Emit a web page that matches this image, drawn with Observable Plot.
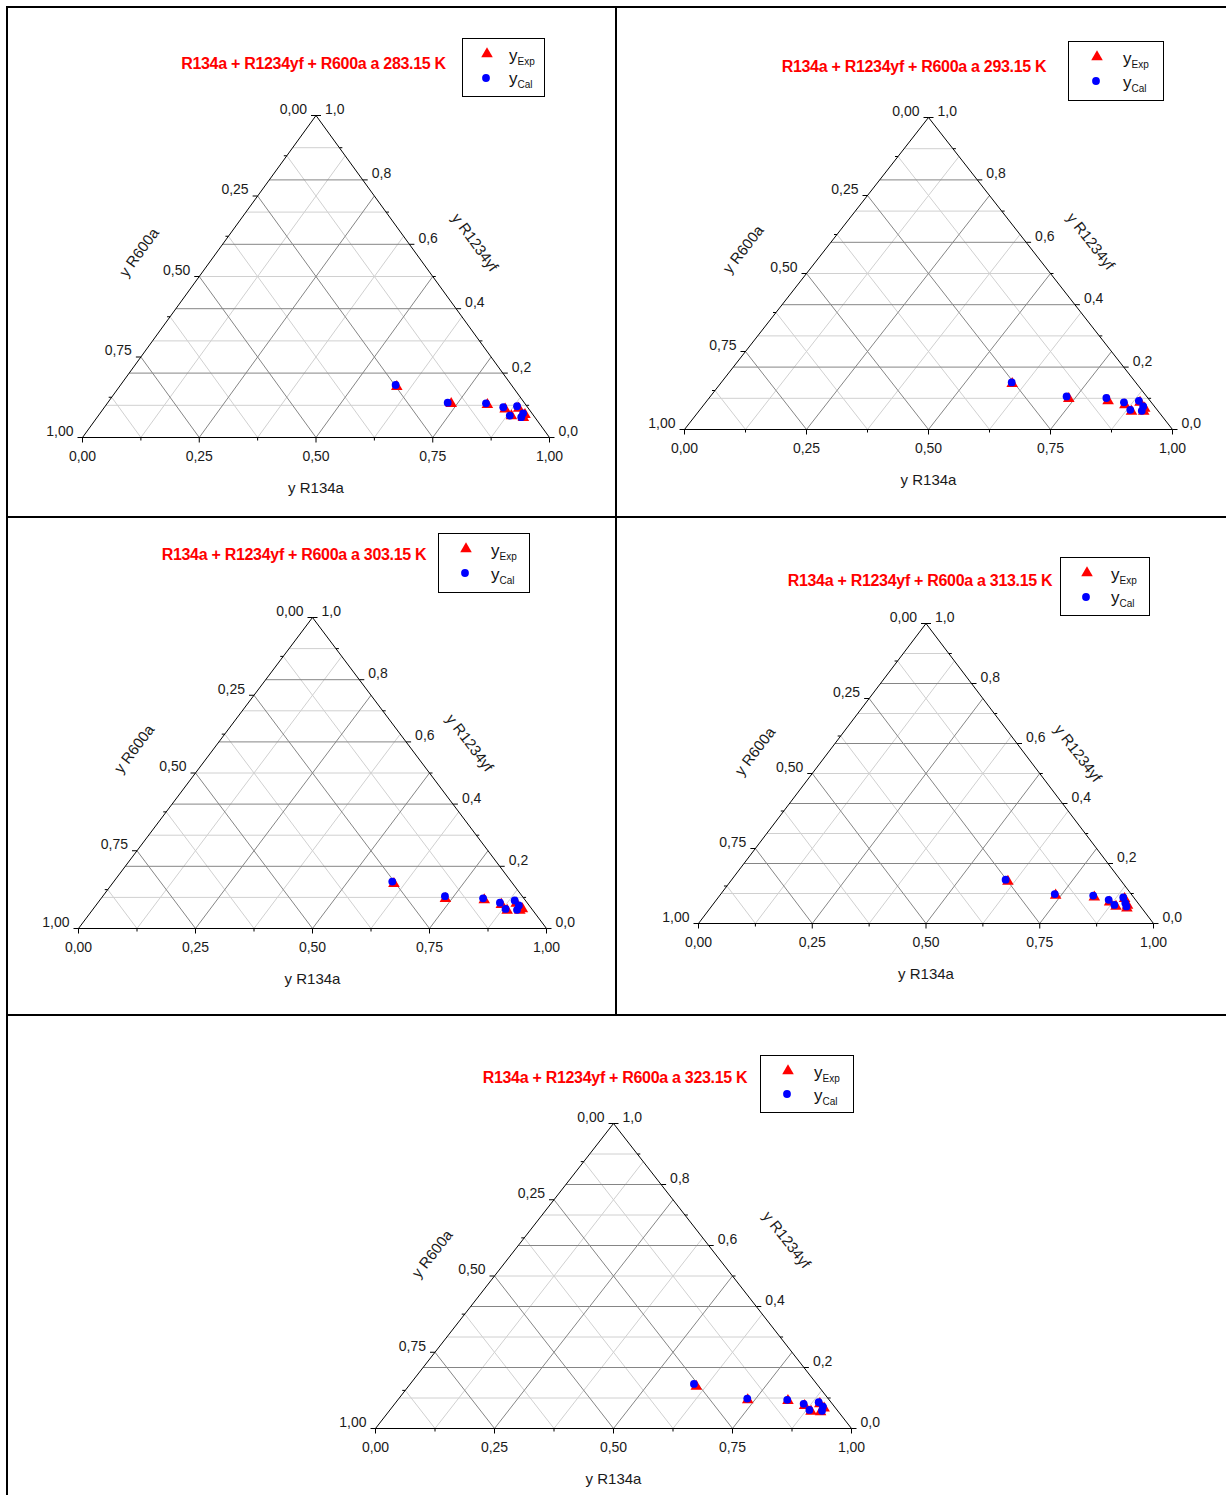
<!DOCTYPE html>
<html><head><meta charset="utf-8">
<script src="https://cdn.jsdelivr.net/npm/d3@7"></script>
<script src="https://cdn.jsdelivr.net/npm/@observablehq/plot@0.6"></script>
<style>
body{margin:0;background:#fff;font-family:"Liberation Sans",Arial,sans-serif;}
#root{position:relative;width:1226px;height:1495px;overflow:hidden;background:#fff;}
.bline{position:absolute;background:#000;}
.panel{position:absolute;}
.title{position:absolute;color:#ff0000;font-weight:bold;font-size:16px;white-space:nowrap;transform:translate(-50%,-50%);letter-spacing:-0.3px;word-spacing:0px;}
.legend{position:absolute;border:1px solid #000;box-sizing:border-box;background:#fff;}
.legend .lt{position:absolute;font-size:17px;line-height:17px;color:#111;white-space:nowrap;}
.legend .lt sub{font-size:10px;vertical-align:-4px;}
</style></head><body><div id="root"></div>
<script>
// ---------- data (ternary compositions) ----------
const temperatures = ["283.15", "293.15", "303.15", "313.15", "323.15"];
// experimental vapour mole fractions
const expR134a = [
  [0.594, 0.737, 0.816, 0.861, 0.889, 0.885, 0.912, 0.913],
  [0.598, 0.738, 0.822, 0.863, 0.890, 0.887, 0.909, 0.912],
  [0.602, 0.736, 0.821, 0.865, 0.895, 0.887, 0.917, 0.914],
  [0.610, 0.738, 0.826, 0.868, 0.895, 0.889, 0.913, 0.916],
  [0.605, 0.735, 0.821, 0.864, 0.893, 0.887, 0.909, 0.908]
];
const expR1234yf = [
  [0.158, 0.105, 0.102, 0.088, 0.090, 0.067, 0.071, 0.062],
  [0.147, 0.099, 0.092, 0.079, 0.087, 0.058, 0.068, 0.058],
  [0.144, 0.096, 0.092, 0.077, 0.081, 0.058, 0.063, 0.058],
  [0.140, 0.094, 0.088, 0.071, 0.083, 0.057, 0.060, 0.051],
  [0.138, 0.094, 0.091, 0.075, 0.081, 0.056, 0.067, 0.054]
];
// calculated vapour mole fractions
const calR134a = [
  [0.589, 0.728, 0.811, 0.854, 0.882, 0.881, 0.906, 0.908],
  [0.595, 0.730, 0.814, 0.857, 0.885, 0.882, 0.903, 0.907],
  [0.595, 0.731, 0.816, 0.859, 0.887, 0.881, 0.904, 0.907],
  [0.602, 0.734, 0.821, 0.862, 0.890, 0.883, 0.904, 0.912],
  [0.596, 0.732, 0.818, 0.859, 0.888, 0.881, 0.904, 0.909]
];
const calR1234yf = [
  [0.163, 0.108, 0.106, 0.094, 0.097, 0.068, 0.075, 0.063],
  [0.151, 0.106, 0.101, 0.087, 0.092, 0.063, 0.074, 0.060],
  [0.151, 0.104, 0.097, 0.083, 0.090, 0.063, 0.074, 0.060],
  [0.146, 0.098, 0.093, 0.079, 0.087, 0.062, 0.068, 0.057],
  [0.146, 0.098, 0.094, 0.081, 0.086, 0.061, 0.072, 0.058]
];
// axes
const r134aTicks = [0, 0.25, 0.5, 0.75, 1];
const r134aTickLabels = ["0,00", "0,25", "0,50", "0,75", "1,00"];
const r600aTicks = [0, 0.25, 0.5, 0.75, 1];
const r600aTickLabels = ["0,00", "0,25", "0,50", "0,75", "1,00"];
const r1234yfTicks = [0, 0.2, 0.4, 0.6, 0.8, 1];
const r1234yfTickLabels = ["0,0", "0,2", "0,4", "0,6", "0,8", "1,0"];
const eighthGrid = [0.125, 0.25, 0.375, 0.5, 0.625, 0.75, 0.875];
const tenthGrid = [0.1, 0.2, 0.3, 0.4, 0.5, 0.6, 0.7, 0.8, 0.9];
const minorEighth = [0.125, 0.375, 0.625, 0.875];
const minorTenth = [0.1, 0.3, 0.5, 0.7, 0.9];

// ---------- layout (pixels) ----------
const layout = [
  {cell: [9, 9, 606, 507],    tri: [82, 549, 115, 437],   title: [313.5, 64],  legend: [462, 38, 83, 59],   lt: [-60, -24], rt: [42, -34]},
  {cell: [618, 9, 608, 507],  tri: [684, 1172, 117, 429], title: [914, 67],    legend: [1068, 41, 96, 60],  lt: [-63, -24], rt: [40, -32]},
  {cell: [9, 519, 606, 495],  tri: [78, 546, 617, 928],   title: [294, 555],   legend: [438, 533, 92, 60],  lt: [-61, -24], rt: [40, -30]},
  {cell: [618, 519, 608, 495],tri: [698, 1153, 623, 923], title: [920, 581],   legend: [1060, 557, 90, 59], lt: [-57, -22], rt: [38, -20]},
  {cell: [9, 1017, 1217, 478],tri: [375, 851, 1123, 1428],title: [615, 1078],  legend: [760, 1055, 94, 58], lt: [-62, -22], rt: [54, -36]}
];

const root = document.getElementById("root");
function addLine(l, t, w, h) {
  const d = document.createElement("div");
  d.className = "bline";
  Object.assign(d.style, {left: l + "px", top: t + "px", width: w + "px", height: h + "px"});
  root.appendChild(d);
}
addLine(6, 6, 1220, 2);
addLine(6, 6, 2, 1489);
addLine(615, 6, 2, 1010);
addLine(6, 516, 1220, 2);
addLine(6, 1014, 1220, 2);

const tern = (a, f) => a + f / 2;
const FONT = "'Liberation Sans', Arial, sans-serif";
const TXT = "#1a1a1a";
const RT = 4.3, RC = 3.9;

function makePanel(k) {
  const L = layout[k];
  const [cl, ct, cw, ch] = L.cell;
  const [x0, x1, yt, yb] = L.tri;
  const Wp = x1 - x0, Hp = yb - yt;
  const ux = 1 / Wp, uy = 1 / Hp; // one pixel in data units

  const exp = expR134a[k].map((a, i) => ({x: tern(a, expR1234yf[k][i]), y: expR1234yf[k][i]}));
  const cal = calR134a[k].map((a, i) => ({x: tern(a, calR1234yf[k][i]), y: calR1234yf[k][i]}));

  const gridH = tenthGrid.map(c => ({x1: c / 2, y1: c, x2: 1 - c / 2, y2: c, major: Math.round(c * 10) % 2 === 0}));
  const grid134 = eighthGrid.map(c => ({x1: c, y1: 0, x2: c + (1 - c) / 2, y2: 1 - c, major: Math.round(c * 8) % 2 === 0}));
  const grid600 = eighthGrid.map(c => ({x1: (1 - c) / 2, y1: 1 - c, x2: 1 - c, y2: 0, major: Math.round(c * 8) % 2 === 0}));
  const grid = [...gridH, ...grid134, ...grid600];

  const outline = [{x: 0, y: 0}, {x: 1, y: 0}, {x: 0.5, y: 1}, {x: 0, y: 0}];

  const tick = 5, mtick = 3;
  const ticks = [];
  r134aTicks.forEach(v => ticks.push({x1: v, y1: 0, x2: v, y2: -tick * uy}));
  minorEighth.forEach(v => ticks.push({x1: v, y1: 0, x2: v, y2: -mtick * uy}));
  r600aTicks.forEach(v => ticks.push({x1: (1 - v) / 2, y1: 1 - v, x2: (1 - v) / 2 - tick * ux, y2: 1 - v}));
  minorEighth.forEach(v => ticks.push({x1: (1 - v) / 2, y1: 1 - v, x2: (1 - v) / 2 - mtick * ux, y2: 1 - v}));
  r1234yfTicks.forEach(v => ticks.push({x1: 1 - v / 2, y1: v, x2: 1 - v / 2 + tick * ux, y2: v}));
  minorTenth.forEach(v => ticks.push({x1: 1 - v / 2, y1: v, x2: 1 - v / 2 + mtick * ux, y2: v}));

  const bottomLab = r134aTicks.map((v, i) => ({x: v, y: 0, t: r134aTickLabels[i]}));
  const leftLab = r600aTicks.map((v, i) => ({x: (1 - v) / 2, y: 1 - v, t: r600aTickLabels[i]}));
  const rightLab = r1234yfTicks.map((v, i) => ({x: 1 - v / 2, y: v, t: r1234yfTickLabels[i]}));
  const ang = Math.atan2(Hp, Wp / 2) * 180 / Math.PI;

  const plot = Plot.plot({
    width: cw, height: ch,
    marginLeft: x0 - cl, marginRight: cl + cw - x1,
    marginTop: yt - ct, marginBottom: ct + ch - yb,
    x: {domain: [0, 1], axis: null},
    y: {domain: [0, 1], axis: null},
    style: {fontFamily: FONT, background: "transparent", overflow: "visible"},
    marks: [
      Plot.link(grid.filter(d => !d.major), {x1: "x1", y1: "y1", x2: "x2", y2: "y2", stroke: "#d0d0d0", strokeWidth: 1}),
      Plot.link(grid.filter(d => d.major), {x1: "x1", y1: "y1", x2: "x2", y2: "y2", stroke: "#858585", strokeWidth: 1}),
      Plot.line(outline, {x: "x", y: "y", stroke: "#000", strokeWidth: 1}),
      Plot.link(ticks, {x1: "x1", y1: "y1", x2: "x2", y2: "y2", stroke: "#000", strokeWidth: 1}),
      Plot.text(bottomLab, {x: "x", y: "y", text: "t", dy: 19, fontSize: 14, fill: TXT}),
      Plot.text(leftLab, {x: "x", y: "y", text: "t", dx: -9, dy: -6, textAnchor: "end", fontSize: 14, fill: TXT}),
      Plot.text(rightLab, {x: "x", y: "y", text: "t", dx: 9, dy: -6, textAnchor: "start", fontSize: 14, fill: TXT}),
      Plot.text([{x: 0.5, y: 0, t: "y R134a"}], {x: "x", y: "y", text: "t", dy: 51, fontSize: 15, fill: TXT}),
      Plot.text([{x: 0.25, y: 0.5, t: "y R600a"}], {x: "x", y: "y", text: "t", dx: L.lt[0], dy: L.lt[1], rotate: -ang, fontSize: 15, fill: TXT}),
      Plot.text([{x: 0.75, y: 0.5, t: "y R1234yf"}], {x: "x", y: "y", text: "t", dx: L.rt[0], dy: L.rt[1], rotate: ang, fontSize: 15, fill: TXT}),
      Plot.dot(exp, {x: "x", y: "y", symbol: "triangle", r: RT, fill: "#ff0000"}),
      Plot.dot(cal, {x: "x", y: "y", symbol: "circle", r: RC, fill: "#0000ff"})
    ]
  });
  plot.classList.add("panel");
  plot.style.left = cl + "px";
  plot.style.top = ct + "px";
  root.appendChild(plot);

  const t = document.createElement("div");
  t.className = "title";
  t.textContent = "R134a + R1234yf + R600a a " + temperatures[k] + " K";
  t.style.left = L.title[0] + "px";
  t.style.top = L.title[1] + "px";
  root.appendChild(t);

  const [lx, ly, lw, lh] = L.legend;
  const lg = document.createElement("div");
  lg.className = "legend";
  Object.assign(lg.style, {left: lx + "px", top: ly + "px", width: lw + "px", height: lh + "px"});
  const mx = Math.round(lw * 0.3);
  const tx = Math.round(lw * 0.56);
  lg.innerHTML =
    `<svg width="${lw}" height="${lh}" style="position:absolute;left:-1px;top:-1px">
      <path d="${d3.symbol(d3.symbolTriangle, Math.PI * RT * RT)()}" transform="translate(${mx},${Math.round(lh * 0.27)})" fill="#ff0000"/>
      <circle cx="${mx - 1}" cy="${Math.round(lh * 0.67)}" r="${RC}" fill="#0000ff"/>
    </svg>
    <div class="lt" style="left:${tx}px;top:${Math.round(lh * 0.2) - 4}px">y<sub>Exp</sub></div>
    <div class="lt" style="left:${tx}px;top:${Math.round(lh * 0.6) - 4}px">y<sub>Cal</sub></div>`;
  root.appendChild(lg);
}
for (let k = 0; k < 5; k++) makePanel(k);
</script>
</body></html>
